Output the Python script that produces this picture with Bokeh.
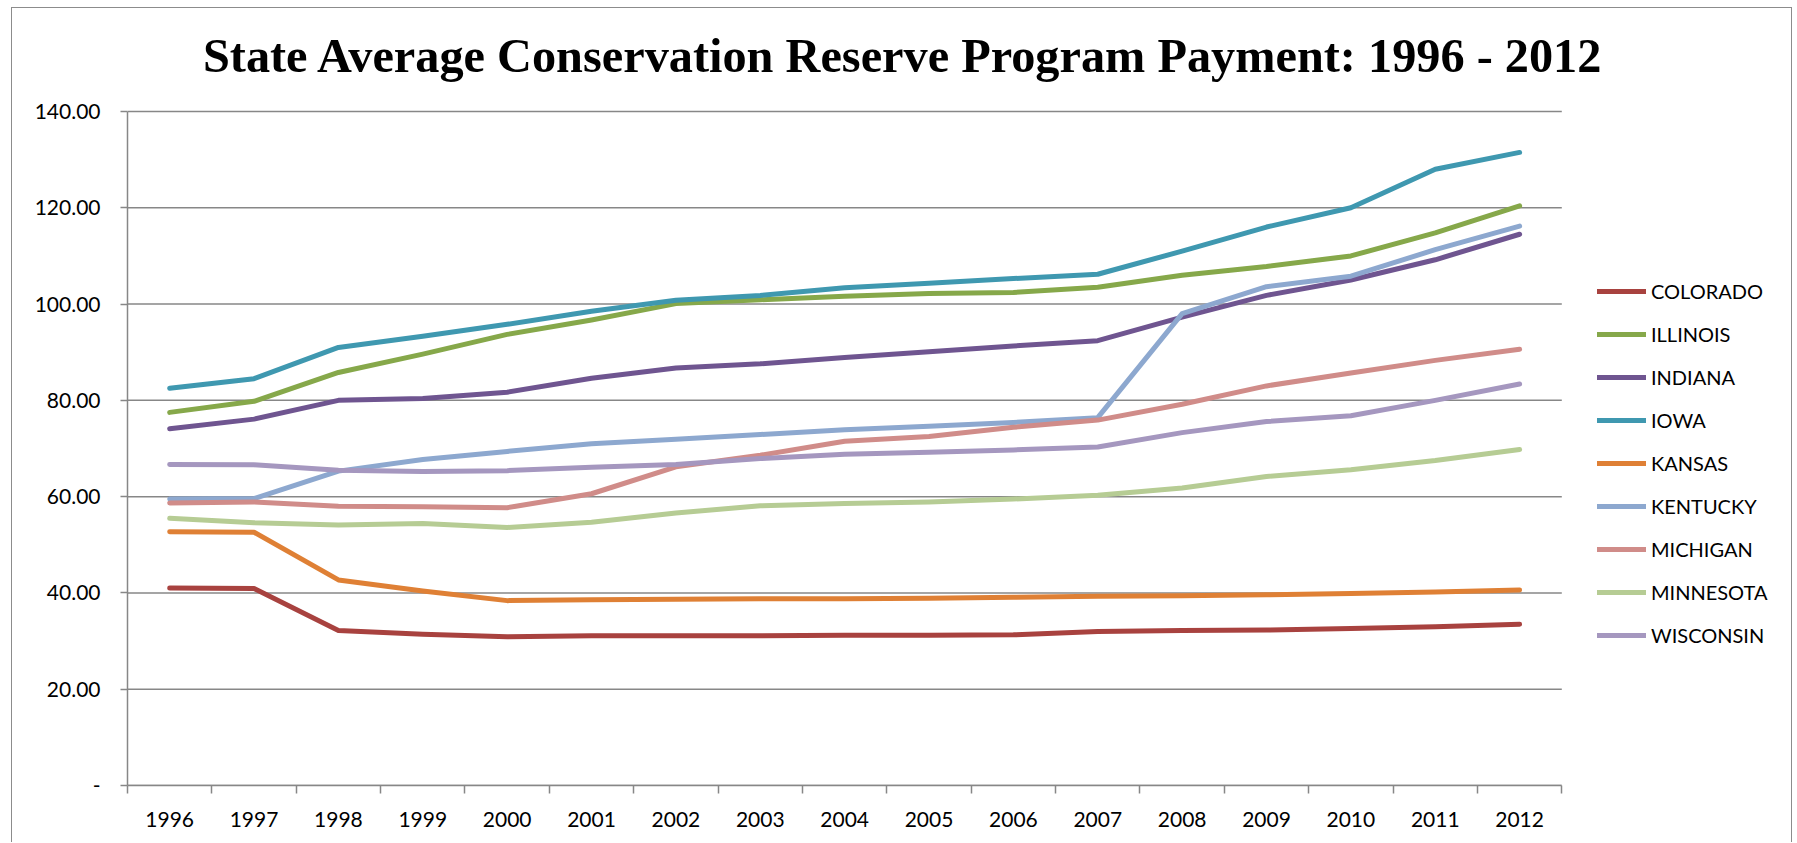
from bokeh.plotting import figure
from bokeh.models import Range1d, LinearAxis, FixedTicker, Legend, LegendItem, Label
from bokeh.embed import file_html
from bokeh.resources import INLINE

title = "State Average Conservation Reserve Program Payment: 1996 - 2012"
years = list(range(1996, 2013))
y_ticks = [0, 20, 40, 60, 80, 100, 120, 140]
y_tick_labels = ["-", "20.00", "40.00", "60.00", "80.00", "100.00", "120.00", "140.00"]

states = ["COLORADO", "ILLINOIS", "INDIANA", "IOWA", "KANSAS",
          "KENTUCKY", "MICHIGAN", "MINNESOTA", "WISCONSIN"]
colors = ["#A8423F", "#86A84A", "#6F5590", "#3F98B0", "#DF8035",
          "#8DA8CF", "#D08C89", "#B6CC94", "#A597BF"]

colorado = [41.0, 40.9, 32.2, 31.4, 30.9, 31.1, 31.1, 31.1, 31.2, 31.2, 31.3, 32.0, 32.2, 32.3, 32.6, 33.0, 33.5]
illinois = [77.5, 79.8, 85.8, 89.6, 93.7, 96.7, 100.1, 100.9, 101.6, 102.2, 102.4, 103.5, 106.0, 107.8, 110.0, 114.8, 120.4]
indiana = [74.1, 76.1, 80.0, 80.4, 81.7, 84.6, 86.7, 87.6, 88.9, 90.1, 91.3, 92.4, 97.3, 101.8, 105.0, 109.2, 114.5]
iowa = [82.5, 84.5, 91.0, 93.3, 95.8, 98.5, 100.8, 101.8, 103.4, 104.3, 105.3, 106.2, 111.0, 116.0, 120.0, 128.0, 131.5]
kansas = [52.7, 52.6, 42.7, 40.4, 38.4, 38.6, 38.7, 38.8, 38.8, 38.9, 39.1, 39.3, 39.4, 39.6, 39.9, 40.2, 40.6]
kentucky = [59.5, 59.6, 65.3, 67.7, 69.4, 71.0, 71.9, 72.9, 73.9, 74.6, 75.4, 76.4, 98.0, 103.6, 105.8, 111.3, 116.2]
michigan = [58.7, 58.9, 58.0, 57.9, 57.7, 60.6, 66.2, 68.6, 71.5, 72.5, 74.4, 75.9, 79.2, 83.0, 85.7, 88.3, 90.6]
minnesota = [55.5, 54.6, 54.1, 54.4, 53.6, 54.7, 56.6, 58.1, 58.6, 58.9, 59.5, 60.3, 61.8, 64.2, 65.6, 67.5, 69.8]
wisconsin = [66.7, 66.6, 65.5, 65.2, 65.4, 66.1, 66.7, 67.9, 68.8, 69.2, 69.7, 70.3, 73.3, 75.6, 76.8, 80.0, 83.4]

series = [colorado, illinois, indiana, iowa, kansas, kentucky, michigan, minnesota, wisconsin]

GRAY = "#878787"
FONT = "Lato"

# layout (pixels, canvas coordinates)
W, H = 1781, 835
LEFT, BOTTOM = 115, 58
PLOT_TOP = 103           # where the 140 line sits
DATA_W = 1434.3          # pixel width of the 17 category slots
FRAME_W = W - LEFT       # frame runs to the right/top edges so legend & title fit inside it
FRAME_H = H - BOTTOM
x0 = years[0] - 0.5
x1 = years[-1] + 0.5
x_end = x0 + (x1 - x0) * FRAME_W / DATA_W
y_top = y_ticks[-1]
y_end = y_top * FRAME_H / (FRAME_H - PLOT_TOP)

p = figure(width=W, height=H, output_backend="svg", toolbar_location=None,
           x_range=Range1d(x0, x_end), y_range=Range1d(0, y_end),
           x_axis_type=None, y_axis_type=None,
           min_border_left=LEFT, min_border_right=0, min_border_top=0, min_border_bottom=BOTTOM)
p.styles = {"margin-left": "11px", "margin-top": "7px",
            "border-left": "1px solid #8c8c8c", "border-top": "1px solid #8c8c8c",
            "border-right": "1px solid #8c8c8c"}
p.outline_line_color = None
p.background_fill_color = "white"
p.border_fill_color = "white"
p.xgrid.visible = False
p.ygrid.visible = False
p.title.visible = False

# title, drawn inside the (extended) frame
p.add_layout(Label(text=title, x=776, y=730, x_units="screen", y_units="screen",
                   text_align="center", text_baseline="alphabetic",
                   text_font="Liberation Serif", text_font_style="bold",
                   text_font_size="48.3px", text_color="black"))

# y axis
yaxis = LinearAxis(ticker=FixedTicker(ticks=y_ticks), bounds=(0, y_top),
                   major_label_overrides={t: l for t, l in zip(y_ticks, y_tick_labels)})
yaxis.axis_line_color = GRAY
yaxis.axis_line_width = 1.5
yaxis.major_tick_line_color = GRAY
yaxis.major_tick_line_width = 1.5
yaxis.major_tick_out = 7
yaxis.major_tick_in = 0
yaxis.minor_tick_line_color = None
yaxis.major_label_standoff = 20
yaxis.major_label_text_font = FONT
yaxis.major_label_text_font_size = "21px"
yaxis.major_label_text_color = "black"
p.add_layout(yaxis, "left")

# horizontal gridlines spanning only the category area
p.segment(x0=[x0] * len(y_ticks), x1=[x1] * len(y_ticks), y0=y_ticks, y1=y_ticks,
          line_color=GRAY, line_width=1.5)

# x axis: tick marks between categories
bounds = [y - 0.5 for y in years] + [years[-1] + 0.5]
xticks_axis = LinearAxis(ticker=FixedTicker(ticks=bounds), bounds=(x0, x1),
                         major_label_overrides={b: "" for b in bounds})
xticks_axis.axis_line_color = GRAY
xticks_axis.axis_line_width = 1.5
xticks_axis.major_tick_line_color = GRAY
xticks_axis.major_tick_line_width = 1.5
xticks_axis.major_tick_out = 8
xticks_axis.major_tick_in = 0
xticks_axis.minor_tick_line_color = None
xticks_axis.major_label_standoff = 0
p.add_layout(xticks_axis, "below")

# x axis: year labels at category centres
xlab_axis = LinearAxis(ticker=FixedTicker(ticks=years), bounds=(x0, x1),
                       major_label_overrides={y: str(y) for y in years})
xlab_axis.axis_line_color = None
xlab_axis.major_tick_line_color = None
xlab_axis.minor_tick_line_color = None
xlab_axis.major_label_standoff = 12
xlab_axis.major_label_text_font = FONT
xlab_axis.major_label_text_font_size = "21px"
xlab_axis.major_label_text_color = "black"
p.add_layout(xlab_axis, "below")

items = []
for name, vals, col in zip(states, series, colors):
    r = p.line(years, vals, line_color=col, line_width=5, line_cap="round", line_join="round")
    items.append(LegendItem(label=name, renderers=[r]))

legend = Legend(items=items, location=(1470, 138))
legend.label_text_font = FONT
legend.label_text_font_size = "20px"
legend.label_text_color = "black"
legend.glyph_width = 49
legend.glyph_height = 20
legend.label_height = 20
legend.spacing = 19
legend.padding = 0
legend.margin = 0
legend.label_standoff = 5
legend.border_line_color = None
legend.background_fill_alpha = 0
p.add_layout(legend, "center")

open("out.html", "w").write(file_html(p, INLINE))
